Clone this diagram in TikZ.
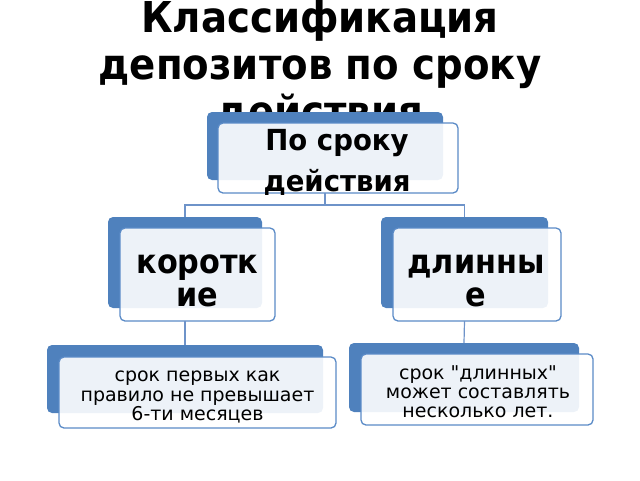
\documentclass[tikz,border=0pt]{standalone}
\usepackage{fontspec}
\setmainfont{DejaVu Sans}[Ligatures=TeXOff]
\newfontfamily\titlefont{DejaVu Sans}[FakeStretch=0.91, Ligatures=TeXOff]
\newfontfamily\midfont{DejaVu Sans}[FakeStretch=0.905, Ligatures=TeXOff]
\newfontfamily\topfont{DejaVu Sans}[FakeStretch=0.95, Ligatures=TeXOff]
\definecolor{backblue}{HTML}{4F81BD}
\definecolor{edgeblue}{HTML}{5B8BC7}
\definecolor{connblue}{HTML}{6E93C9}
\tikzset{
  backbox/.style={draw=none, fill=backblue, rounded corners=5pt, inner sep=0pt, outer sep=0pt},
  frontbox/.style={draw=edgeblue, line width=1.3pt, fill=white, fill opacity=0.9, text opacity=1, rounded corners=5pt, inner sep=0pt, outer sep=0pt},
  conn/.style={draw=connblue, line width=1.2pt},
  txt/.style={align=center, inner sep=0pt, outer sep=0pt},
}
\begin{document}
\begin{tikzpicture}[x=1pt,y=-1pt]
\useasboundingbox (0,0) rectangle (640,480);
% title
\node[txt, font=\titlefont\fontsize{42.5}{47.2}\selectfont\bfseries] (title) at (320,66)
  {Классификация\\депозитов по сроку\\действия};
% top level
\node[backbox, minimum width=236pt, minimum height=68pt] (topback) at (325,146) {};
\node[frontbox, minimum width=240pt, minimum height=70pt] (topfront) at (338,158) {};
\node[txt, font=\topfont\fontsize{29}{41}\selectfont\bfseries] (toptxt) at (337,162.9) {По сроку\\действия};
% middle level
\node[backbox, minimum width=154pt, minimum height=91pt] (lback) at (185,262.5) {};
\node[frontbox, minimum width=155pt, minimum height=93pt] (lfront) at (197.5,274.5) {};
\node[txt, font=\midfont\fontsize{33.5}{33.4}\selectfont\bfseries] (ltxt) at (197.5,280.8) {коротк\\ие};
\node[backbox, minimum width=167pt, minimum height=91pt] (rback) at (464.5,262.5) {};
\node[frontbox, minimum width=168pt, minimum height=93pt] (rfront) at (477,274.5) {};
\node[txt, font=\midfont\fontsize{33.5}{33.4}\selectfont\bfseries] (rtxt) at (476,280.8) {длинны\\е};
% bottom level
\node[backbox, minimum width=276pt, minimum height=68pt] (blback) at (185,379) {};
\node[frontbox, minimum width=277pt, minimum height=71pt] (blfront) at (197.5,392.5) {};
\node[txt, font=\fontsize{19}{19.5}\selectfont] (bltxt) at (197.5,397) {срок первых как\\правило не превышает\\6-ти месяцев};
\node[backbox, minimum width=230pt, minimum height=69pt] (brback) at (464,377.5) {};
\node[frontbox, minimum width=232pt, minimum height=71pt] (brfront) at (477,389.5) {};
\node[txt, font=\fontsize{19}{19}\selectfont] (brtxt) at (478,392.2) {срок "длинных"\\может составлять\\несколько лет.};
% connectors
\coordinate (bus) at (325,205);
\draw[conn] (topback.south |- topfront.south) -- (bus) -| (lback.north);
\draw[conn] (bus) -| (rback.north);
\draw[conn] (lback.south |- lfront.south) -- (blback.north);
\draw[conn] (rback.south |- rfront.south) -- (brback.north);
\end{tikzpicture}
\end{document}
